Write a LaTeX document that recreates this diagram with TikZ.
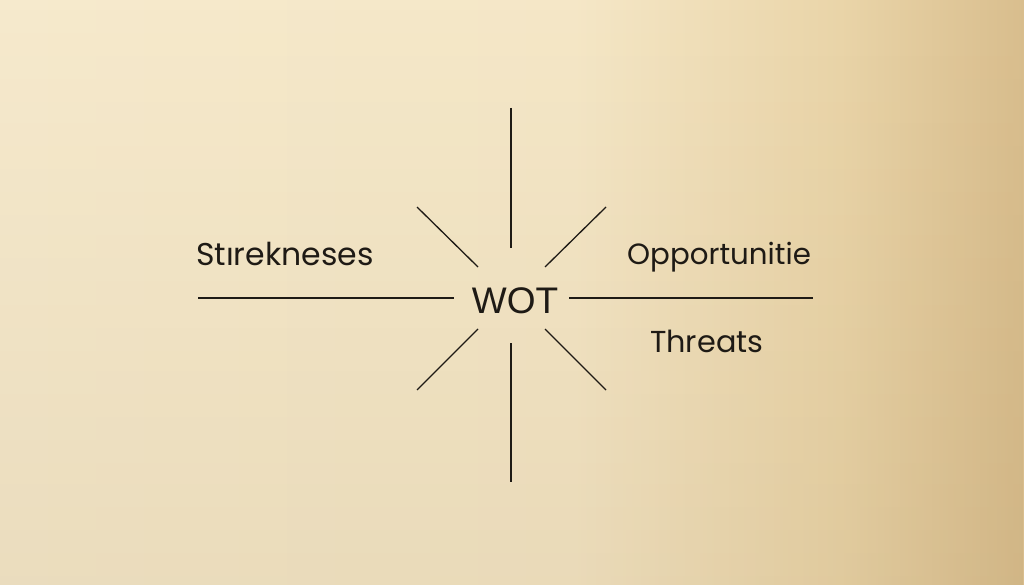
\documentclass[tikz,border=0pt]{standalone}
\usepackage{fontspec}
\usetikzlibrary{fadings}
\setmainfont{Poppins}
\newfontfamily\wotfont{Liberation Sans}
\definecolor{bgA}{HTML}{F6EACD}
\definecolor{bgB}{HTML}{F5E7C7}
\definecolor{bgC}{HTML}{EAD5A9}
\definecolor{bgD}{HTML}{D9BE8E}
\definecolor{bgDark}{HTML}{8A6A3A}
\definecolor{ink}{HTML}{1E1A15}
\pgfdeclarehorizontalshading{bgshade}{100bp}{%
  color(0bp)=(bgA); color(25bp)=(bgA); color(53bp)=(bgB); color(66bp)=(bgC); color(75bp)=(bgD); color(100bp)=(bgD)}
\begin{document}
\begin{tikzpicture}[x=1pt,y=-1pt,
  spoke/.style={draw=ink,line width=1.3pt},
  lbl/.style={text=ink,inner sep=0pt,anchor=base west}]
\useasboundingbox (0,0) rectangle (1024,585);
\shade[shading=bgshade] (0,0) rectangle (1024,585);
\fill[bgDark,opacity=0.10,path fading=north] (0,0) rectangle (1024,585);
% spokes
\coordinate (nT1) at (511,108); \coordinate (nT2) at (511,248);
\coordinate (nB1) at (511,343); \coordinate (nB2) at (511,482);
\coordinate (nL1) at (198,298); \coordinate (nL2) at (454,298);
\coordinate (nR1) at (569,298); \coordinate (nR2) at (813,298);
\coordinate (dUL1) at (417,207); \coordinate (dUL2) at (478,267);
\coordinate (dUR1) at (606,207); \coordinate (dUR2) at (545,267);
\coordinate (dLL1) at (478,329); \coordinate (dLL2) at (417,390);
\coordinate (dLR1) at (545,329); \coordinate (dLR2) at (606,390);
\foreach \a/\b in {nT1/nT2,nB1/nB2,nL1/nL2,nR1/nR2,dUL1/dUL2,dUR1/dUR2,dLL1/dLL2,dLR1/dLR2}
  \draw[spoke] (\a) -- (\b);
% texts
\node[inner sep=0pt,anchor=base,text=ink,font=\wotfont\fontsize{37}{40}\selectfont] (wot) at (515,313) {WOT};
\node[lbl,font=\fontsize{31.5}{34}\selectfont] (str) at (196,265) {Stırekneses};
\node[lbl,font=\fontsize{29.3}{32}\selectfont] (opp) at (627,264) {Opportunitie};
\node[lbl,font=\fontsize{30.3}{33}\selectfont] (thr) at (650,352) {Threats};
\end{tikzpicture}
\end{document}
